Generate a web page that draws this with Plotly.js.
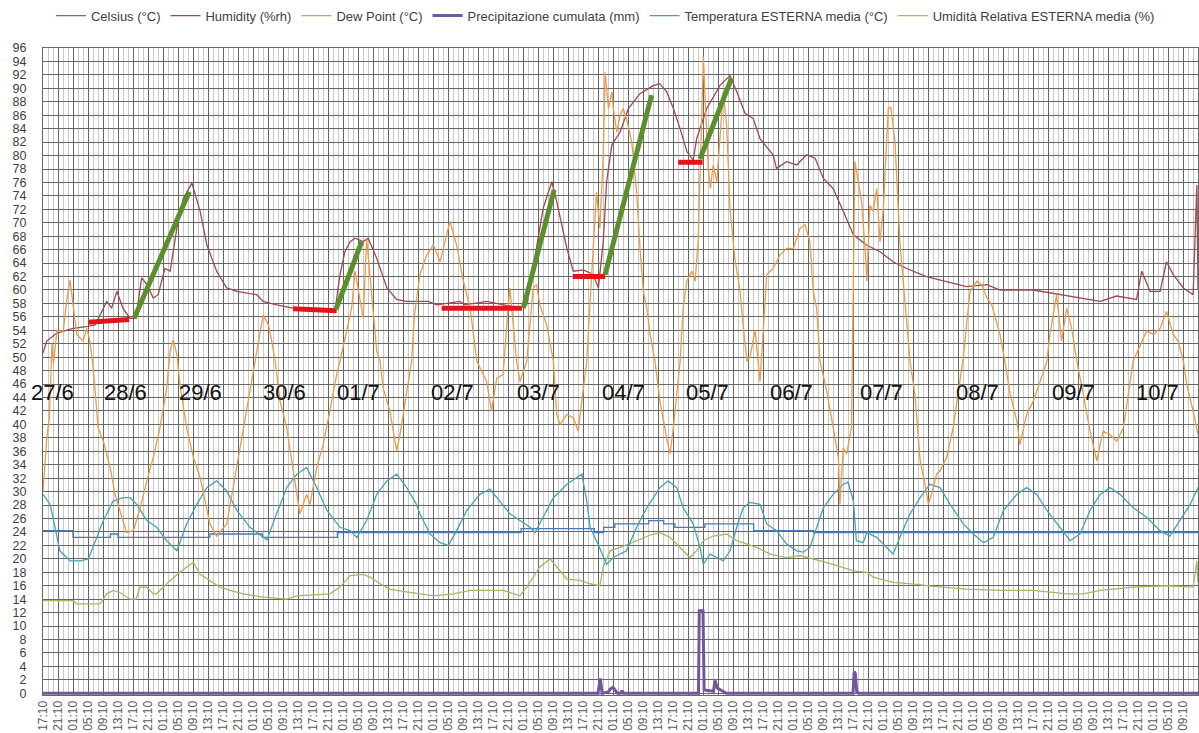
<!DOCTYPE html>
<html>
<head>
<meta charset="utf-8">
<script src="https://cdn.plot.ly/plotly-3.0.1.min.js"></script>
<style>html,body{margin:0;padding:0;background:#fff;}#chart{width:1199px;height:733px;}</style>
</head>
<body>
<div id="chart"></div>
<script>
// x values are hours elapsed since 27/6 17:10
var hourCycle = ['17:10','21:10','01:10','05:10','09:10','13:10'];
var tickCount = 78;

var dateText = ['27/6','28/6','29/6','30/6','01/7','02/7','03/7','04/7','05/7','06/7','07/7','08/7','09/7','10/7'];
var dateX = [2.6,21.9,41.9,64.3,84.0,109.3,132.0,154.7,177.3,199.7,223.7,249.3,274.7,297.3];
var dateY = 44.7;

// Celsius (indoor, stepped)
var celX = [0,8,18,20,44.5,58.5,78.5,127.5,147,149.5,152.5,161.5,165.5,168.5,176.5,189.5,205.5,308];
var celY = [24.2,23.2,23.7,23.2,23.7,23.2,23.9,24.5,23.9,24.7,25.2,25.7,25.2,24.7,25.2,24.2,23.9,23.9];

// Humidity (%rh)
var humX = [0,1.0,3.7,8.0,12.0,13.9,17.0,18.3,19.7,21.3,23.2,24.8,26.3,27.7,29.4,30.7,32.5,33.9,35.7,37.4,
  39.7,41.9,43.7,46.3,49.0,51.7,57.0,58.7,62.3,66.7,72.1,77.9,79.2,80.5,81.9,83.2,85.4,86.7,89.0,91.7,
  94.3,97.0,102.7,105.0,111.2,112.5,118.3,127.2,129.0,131.2,133.4,135.7,137.0,139.7,141.4,144.1,146.7,148.1,149.4,150.3,
  151.7,153.9,156.1,159.2,162.7,164.5,166.3,168.1,169.9,171.7,173.4,174.3,177.0,180.5,183.2,185.0,187.2,189.4,191.2,194.7,
  195.6,198.3,201.0,203.6,205.9,208.1,210.7,213.4,216.1,219.6,223.2,226.7,230.3,235.6,241.0,246.3,251.7,255.2,264.1,273.0,
  281.9,286.3,291.6,293.0,295.2,297.9,299.6,301.4,304.1,306.7,307.7,308];
var humY = [50.6,52.4,53.6,54.3,54.6,54.8,58.3,57.3,59.8,57.3,55.8,55.8,61.8,60.8,58.8,59.3,63.2,62.8,69.2,73.6,
  75.9,71.7,66.7,62.8,60.3,59.8,59.3,58.3,57.8,57.3,57.1,57.1,62.3,65.7,67.2,67.7,67.2,67.7,64.7,60.3,
  58.6,58.3,58.3,57.8,58.3,57.8,58.3,57.3,57.8,65.2,72.2,76.1,73.1,66.2,62.8,63.0,62.3,60.3,67.2,76.1,
  81.6,83.5,87.0,89.2,90.4,90.7,89.5,87.0,84.0,80.6,79.3,82.5,87.0,90.4,91.9,89.5,86.3,85.5,82.5,80.1,
  78.1,79.1,78.6,80.1,79.6,76.6,75.1,71.7,68.2,66.7,65.7,64.2,63.2,62.0,61.3,60.5,60.8,60.0,60.0,59.1,
  58.3,59.1,58.6,62.8,59.8,59.8,64.2,62.3,60.3,59.3,75.6,60];

// Dew Point (°C)
var dewX = [0,8.1,9.0,15.2,17.0,18.7,20.5,23.2,24.8,25.9,
  27.7,29.4,30.3,32.1,33.9,36.5,39.2,40.1,41.9,44.5,
  47.2,49.9,53.4,58.7,65.0,67.7,76.5,79.2,81.9,85.4,
  87.2,89.9,92.5,94.3,100.5,104.1,109.4,113.9,122.7,127.2,
  129.0,132.5,135.2,137.9,139.7,143.2,145.9,148.5,149.4,151.2,
  153.9,158.3,162.7,164.5,167.2,169.9,172.5,174.3,176.1,178.7,
  182.3,185.0,187.7,190.3,193.9,198.3,201.9,205.4,210.7,216.1,
  219.7,221.4,226.7,233.0,237.4,246.3,255.2,264.1,273.0,277.4,
  281.9,290.7,299.6,306.7,307.7,308];
var dewY = [13.8,13.8,13.3,13.3,14.8,15.3,15.0,14.0,14.0,15.8,
  15.8,14.8,14.8,15.8,16.8,18.0,19.2,19.5,17.7,16.8,
  15.8,15.3,14.8,14.3,14.0,14.5,14.8,15.8,17.5,17.7,
  17.3,16.3,15.5,15.3,14.8,14.5,14.8,15.3,15.3,14.5,
  15.8,18.8,20.0,18.2,17.0,16.8,16.3,16.0,18.8,21.2,
  21.7,22.7,23.7,23.9,23.2,21.7,20.2,21.2,22.7,23.4,
  23.7,22.7,22.2,21.7,20.7,20.2,20.5,20.0,19.2,18.2,
  18.0,17.3,16.5,16.2,15.9,15.5,15.3,15.3,14.8,14.8,
  15.3,15.8,16.0,15.8,19.7,16.5];

// Precipitazione cumulata (mm)
var rainX = [0,148.0,148.6,149.1,150.8,151.2,152.0,152.7,153.2,154.0,154.4,154.8,174.8,175.0,176.0,176.3,178.8,179.2,179.8,180.4,181.5,182.2,216.0,216.3,216.6,217.0,217.5,308];
var rainY = [0,0,2.2,0,0.2,0.6,0.9,0.3,0,0,0.4,0,0,12.3,12.3,0.5,0.3,1.9,0.8,0.6,0.2,0,0,3.2,3.0,0.2,0,0];

// Temperatura ESTERNA media (°C)
var tempX = [0,1.9,3.2,4.5,7.2,9.9,12.1,13.9,16.1,18.7,
  21.4,23.2,25.0,27.7,30.3,33.0,35.7,38.3,41.0,43.7,
  46.3,49.0,51.7,55.2,58.7,59.7,62.3,65.0,67.7,70.3,
  73.0,75.7,79.2,81.9,83.7,86.3,89.0,91.7,94.3,97.0,
  99.6,100.5,103.2,105.9,108.1,110.3,113.0,116.5,119.2,121.9,
  124.5,127.2,129.9,131.2,133.4,136.1,139.7,142.3,143.7,145.0,
  145.9,147.6,149.4,150.3,152.1,155.6,158.3,161.0,164.5,166.7,
  169.0,170.7,173.4,175.2,176.1,177.9,179.7,181.4,183.2,185.0,
  186.7,188.5,191.2,193.0,195.6,198.3,201.0,202.7,204.5,206.3,
  208.1,210.7,213.4,214.7,216.1,216.9,218.7,219.7,222.3,225.0,
  226.7,228.5,231.2,233.9,236.5,239.2,241.9,245.4,248.1,250.8,
  253.4,256.1,259.7,262.3,265.0,267.7,271.2,273.9,276.5,279.2,
  281.9,284.5,287.2,290.7,294.3,297.9,300.5,303.2,305.9,308];
var tempY = [29.6,28.1,24.7,21.2,19.7,19.7,20.0,22.7,25.7,28.6,
  29.1,29.1,28.1,25.7,24.7,22.7,21.2,25.2,28.1,30.6,
  31.6,30.1,27.2,24.7,23.2,22.8,26.7,30.6,32.6,33.6,
  30.6,27.2,24.7,24.2,23.2,25.7,29.6,31.6,32.6,30.6,
  28.1,26.7,23.7,22.4,22.0,24.2,27.2,29.6,30.4,28.6,
  26.7,25.7,24.7,23.9,26.2,29.1,31.1,32.1,32.6,28.6,
  24.7,22.7,20.2,19.2,20.2,21.2,24.7,27.6,30.6,31.6,
  30.6,27.6,25.2,21.7,19.2,20.7,20.2,19.7,21.2,24.7,
  27.6,28.4,28.1,25.2,24.2,22.2,21.2,21.0,21.7,24.7,
  27.6,29.6,31.1,31.4,28.6,22.7,22.4,23.9,23.2,21.7,
  20.7,23.2,26.7,29.1,31.1,30.6,28.1,25.2,23.7,22.4,
  23.2,27.2,29.6,30.6,29.6,27.2,24.7,22.7,23.7,27.2,
  29.6,30.6,29.6,27.6,26.2,24.2,23.4,25.7,28.1,30.6];

// Umidità Relativa ESTERNA media (%)
var rhX = [0,1.0,1.7,2.4,2.8,3.7,5.4,6.3,7.2,8.1,
  9.0,10.7,11.7,12.5,13.4,14.7,16.1,17.9,19.2,20.5,
  22.3,24.1,25.9,27.7,29.4,31.2,33.0,33.9,34.7,35.7,
  36.5,38.3,40.1,41.9,44.5,46.3,49.0,50.7,52.5,54.3,
  56.1,57.9,58.7,60.1,61.0,61.9,63.2,65.0,66.7,68.5,
  70.3,71.2,73.0,74.7,76.5,78.3,79.2,81.0,82.3,83.2,
  85.4,86.3,87.2,89.0,89.9,90.7,92.5,94.3,95.2,97.0,
  98.3,99.0,100.5,102.3,104.1,105.9,108.5,110.3,111.2,112.1,
  113.9,114.7,115.7,118.3,119.6,121.0,122.7,124.0,124.5,126.3,
  127.2,129.0,130.7,131.6,132.5,134.3,136.1,137.0,137.9,139.7,
  141.4,142.7,144.1,145.0,145.9,146.7,147.6,148.5,149.4,149.9,
  150.3,150.8,151.7,152.1,153.0,153.9,154.7,155.6,157.0,158.3,
  159.2,160.1,161.0,161.9,163.2,164.5,166.3,167.2,168.1,169.0,
  169.9,170.7,171.7,173.0,173.9,174.7,175.6,176.1,176.5,177.4,
  178.0,178.7,179.7,180.5,181.4,182.3,183.2,184.5,185.9,186.7,
  187.7,188.5,189.9,191.2,193.0,194.7,196.5,198.3,200.1,201.9,
  203.2,204.5,205.4,206.3,207.2,209.0,210.7,212.1,212.5,213.4,
  214.3,215.6,216.5,217.4,218.3,219.2,219.7,220.5,221.4,222.3,
  223.2,224.1,225.4,226.1,227.2,228.5,229.9,231.2,232.5,233.9,
  235.2,236.1,237.4,238.3,239.2,241.0,242.7,244.5,245.4,247.2,
  249.0,250.3,251.7,253.0,254.3,255.2,256.5,257.9,259.7,260.5,
  262.3,264.1,265.9,267.7,268.5,270.3,271.6,273.0,274.3,275.7,
  277.4,279.2,281.0,282.7,284.5,286.3,288.1,289.9,290.7,294.3,
  296.1,297.9,299.6,301.4,302.7,304.1,305.0,306.7,308];
var rhY = [30,38,41,52,49,53.9,53.9,58.3,61.5,57.8,
  53.4,52.4,54.3,52.4,48.4,39.5,37.5,33.6,29.6,27.2,
  23.9,24.2,27.6,31.6,35.1,39.5,45.4,50.9,52.6,50.4,
  46.0,39.5,35.1,32.1,25.2,23.4,25.2,30.6,36.5,42.0,
  48.4,53.9,56.3,54.8,52.4,49.4,43.5,39.5,33.1,26.7,
  29.6,28.1,33.6,37.0,42.0,47.4,49.4,53.9,57.3,62.8,
  55.8,67.7,62.3,50.9,49.4,45.4,42.0,36.1,38.5,45.0,
  49.4,56.0,62.3,65.2,66.7,64.2,70.2,66.7,64.2,61.3,
  57.3,53.9,49.4,46.4,42.0,46.9,47.4,57.3,60.3,49.4,
  46.4,49.4,60.3,60.8,57.8,54.8,49.4,41.5,40.0,41.5,
  41.0,39.0,45.4,49.4,58.3,65.2,74.6,69.2,80.0,92.4,
  89.5,87.0,89.5,87.0,83.5,86.0,87.0,85.5,82.0,74.6,
  66.2,59.8,57.3,53.4,49.4,43.5,38.0,35.6,39.5,44.5,
  49.4,57.3,61.3,62.8,61.3,67.2,87.0,94.7,89.5,78.1,
  75.1,78.6,76.1,83.0,89.5,84.5,72.2,64.7,59.8,54.8,
  49.4,50.0,54.0,46.4,62.3,63.2,65.2,66.2,66.2,69.2,
  69.7,67.2,59.8,57.3,49.4,45.0,39.5,35.1,28.1,36.5,
  35.6,39.5,79.1,76.1,73.1,66.2,61.3,72.6,71.7,75.1,
  67.2,72.2,87.0,87.2,82.0,67.2,57.3,49.4,44.5,34.6,
  31.1,28.1,30.6,32.6,33.1,35.1,39.5,46.4,49.9,59.8,
  61.3,60.8,58.8,57.8,55.3,53.4,49.4,44.5,40.5,37.0,
  41.5,43.5,46.4,49.4,53.4,59.3,52.4,57.3,54.3,49.4,
  44.5,39.0,34.6,39.0,38.5,37.5,39.5,46.4,49.4,53.9,
  53.4,54.3,56.8,53.4,52.4,49.4,45.9,42.0,38.5];

// hand-drawn marks: red plateaus and green rises
var redX = [12.1,23.0,null,66.7,78.3,null,106.3,127.7,null,141.3,149.9,null,169.4,175.9];
var redY = [55.2,55.6,null,57.2,56.9,null,57.3,57.3,null,62.0,62.0,null,79.0,79.0];
var greenX = [24.3,39.0,null,78.1,85.0,null,128.1,136.3,null,149.9,162.3,null,175.2,183.6];
var greenY = [55.8,74.6,null,57.1,67.2,null,57.3,74.9,null,62.3,89.0,null,79.5,91.5];

var tickVals = [], tickText = [];
for (var i = 0; i < tickCount; i++) { tickVals.push(i * 4); tickText.push(hourCycle[i % hourCycle.length]); }

var FONT = 'Liberation Sans, Arial, sans-serif';
var traces = [
  {x: celX, y: celY, name: 'Celsius (°C)', mode: 'lines', line: {color: '#4a78b3', width: 1.3, shape: 'hv'}},
  {x: humX, y: humY, name: 'Humidity (%rh)', mode: 'lines', line: {color: '#9c4a4f', width: 1.3}},
  {x: dewX, y: dewY, name: 'Dew Point (°C)', mode: 'lines', line: {color: '#a2b865', width: 1.3}},
  {x: rainX, y: rainY, name: 'Precipitazione cumulata (mm)', mode: 'lines', line: {color: '#74579b', width: 3}},
  {x: tempX, y: tempY, name: 'Temperatura ESTERNA media (°C)', mode: 'lines', line: {color: '#4a9fbb', width: 1.3}},
  {x: rhX, y: rhY, name: 'Umidità Relativa ESTERNA media (%)', mode: 'lines', line: {color: '#eb9a4c', width: 1.3}},
  {x: redX, y: redY, mode: 'lines', showlegend: false, hoverinfo: 'skip', line: {color: '#e3151c', width: 5}},
  {x: greenX, y: greenY, mode: 'lines', showlegend: false, hoverinfo: 'skip', line: {color: '#5b8e2c', width: 5}}
];

var annotations = dateText.map(function (t, i) {
  return {x: dateX[i], y: dateY, xref: 'x', yref: 'y', text: t, showarrow: false,
          font: {family: FONT, size: 22, color: '#111'}, xanchor: 'center', yanchor: 'middle'};
});

var layout = {
  width: 1199, height: 733,
  margin: {l: 43, r: 1, t: 46, b: 38, pad: 0},
  paper_bgcolor: '#ffffff', plot_bgcolor: '#ffffff',
  font: {family: FONT, color: '#404040'},
  showlegend: true,
  legend: {orientation: 'h', x: 0.487, xanchor: 'center', y: 1.05, yanchor: 'middle',
           font: {family: FONT, size: 13, color: '#404040'}, itemwidth: 30, bgcolor: 'rgba(0,0,0,0)',
           traceorder: 'normal'},
  xaxis: {range: [0, 308], tickmode: 'array', tickvals: tickVals, ticktext: tickText, tickangle: -90,
          tickfont: {family: FONT, size: 12, color: '#595959'}, showgrid: true, gridcolor: '#666666', gridwidth: 1,
          minor: {tickmode: 'linear', tick0: 0, dtick: 4 / 3, showgrid: true, gridcolor: '#c8c8c8', gridwidth: 1, ticks: ''},
          zeroline: false, showline: true, linecolor: '#666666', mirror: true, ticks: '', fixedrange: true},
  yaxis: {range: [-0.25, 96], tickmode: 'linear', tick0: 0, dtick: 2, ticklabelstandoff: 13,
          tickfont: {family: FONT, size: 12.5, color: '#404040'}, showgrid: true, gridcolor: '#666666', gridwidth: 1,
          zeroline: false, showline: true, linecolor: '#666666', mirror: true, ticks: '', fixedrange: true},
  annotations: annotations
};

Plotly.newPlot('chart', traces, layout, {displayModeBar: false, staticPlot: true});
</script>
</body>
</html>
